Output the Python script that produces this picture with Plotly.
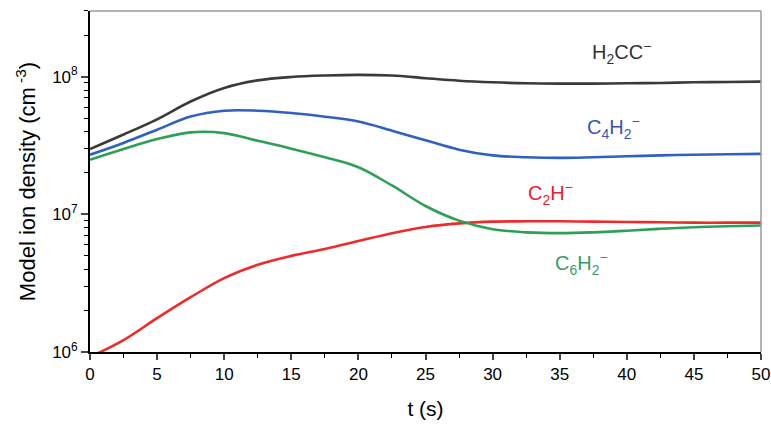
import math
import plotly.graph_objects as go

t = [0, 2.5, 5, 7.5, 10, 12.5, 15, 17.5, 20, 22.5, 25, 27.5, 30, 32.5, 35, 37.5, 40, 42.5, 45, 47.5, 50]

h2cc = [2.98e7, 3.8e7, 4.9e7, 6.6e7, 8.28e7, 9.4e7, 9.95e7, 1.02e8, 1.03e8, 1.02e8, 9.75e7, 9.35e7,
        9.1e7, 8.95e7, 8.9e7, 8.9e7, 8.95e7, 9.0e7, 9.1e7, 9.15e7, 9.2e7]
c4h2 = [2.71e7, 3.3e7, 4.12e7, 5.13e7, 5.66e7, 5.66e7, 5.45e7, 5.12e7, 4.72e7, 4.05e7, 3.45e7, 2.95e7,
        2.68e7, 2.6e7, 2.57e7, 2.6e7, 2.64e7, 2.68e7, 2.71e7, 2.73e7, 2.75e7]
c6h2 = [2.49e7, 2.98e7, 3.52e7, 3.94e7, 3.89e7, 3.42e7, 3.0e7, 2.6e7, 2.2e7, 1.62e7, 1.15e7, 9.0e6,
        7.8e6, 7.4e6, 7.3e6, 7.4e6, 7.6e6, 7.85e6, 8.05e6, 8.2e6, 8.3e6]
c2h = [0.92e6, 1.22e6, 1.76e6, 2.5e6, 3.44e6, 4.3e6, 4.99e6, 5.6e6, 6.4e6, 7.3e6, 8.1e6, 8.6e6,
       8.85e6, 8.9e6, 8.9e6, 8.85e6, 8.8e6, 8.75e6, 8.7e6, 8.7e6, 8.7e6]

names = ["H<sub>2</sub>CC<sup>−</sup>", "C<sub>4</sub>H<sub>2</sub><sup>−</sup>",
         "C<sub>2</sub>H<sup>−</sup>", "C<sub>6</sub>H<sub>2</sub><sup>−</sup>"]
label_t = [39.6, 39.0, 34.3, 36.6]
label_val = [1.5e8, 4.3e7, 1.42e7, 4.4e6]

line_colors = ["#3a3a3a", "#3060c0", "#ee2b2b", "#2ea055"]
text_colors = ["#333333", "#3a55b0", "#e8202a", "#3a9a6a"]
data = [h2cc, c4h2, c2h, c6h2]

FONT = "Liberation Sans, Arial, sans-serif"

fig = go.Figure()
for name, vals, lc, tc, lx, ly in zip(names, data, line_colors, text_colors, label_t, label_val):
    fig.add_trace(go.Scatter(x=t, y=vals, mode="lines", name=name,
                             line=dict(color=lc, width=2.6, shape="spline", smoothing=1.0),
                             showlegend=False, hoverinfo="skip"))
    fig.add_annotation(x=lx, y=math.log10(ly), xref="x", yref="y", text=name, showarrow=False,
                       font=dict(family=FONT, size=20, color=tc))

fig.update_layout(
    width=771, height=427,
    margin=dict(l=90, r=10, t=11, b=75),
    plot_bgcolor="white", paper_bgcolor="white",
    font=dict(family=FONT, size=17, color="black"),
    xaxis=dict(range=[0, 50], tickvals=[0, 5, 10, 15, 20, 25, 30, 35, 40, 45, 50],
               ticks="outside", ticklen=6, tickwidth=1.5, showline=True, linecolor="black", linewidth=1.8,
               showgrid=False, zeroline=False, automargin=False,
               minor=dict(tickvals=[2.5, 7.5, 12.5, 17.5, 22.5, 27.5, 32.5, 37.5, 42.5, 47.5],
                          ticks="outside", ticklen=4, tickwidth=1.2, tickcolor="black"),
               title=dict(text="t (s)", font=dict(size=21), standoff=18),
               tickfont=dict(size=17)),
    yaxis=dict(type="log", range=[6, 8.477], tickvals=[1e6, 1e7, 1e8],
               ticktext=["10<sup>6</sup>", "10<sup>7</sup>", "10<sup>8</sup>"],
               ticks="outside", ticklen=7, tickwidth=1.5, showline=True, linecolor="black", linewidth=1.8,
               showgrid=False, zeroline=False, automargin=False,
               minor=dict(tickvals=[k * 10 ** e for e in (6, 7) for k in range(2, 10)] + [2e8, 3e8],
                          ticks="outside", ticklen=4, tickwidth=1.2, tickcolor="black"),
               title=dict(text="Model ion density (cm<sup> -3</sup>)", font=dict(size=22), standoff=10),
               tickfont=dict(size=17)),
)
fig.add_shape(type="line", xref="paper", yref="paper", x0=0, x1=1, y0=1, y1=1,
              line=dict(color="#9a9a9a", width=1.5))
fig.add_shape(type="line", xref="paper", yref="paper", x0=1, x1=1, y0=0, y1=1,
              line=dict(color="#9a9a9a", width=1.5))

fig.write_html("out.html", config={"displayModeBar": False},
               post_script="document.body.style.margin='0';document.body.style.padding='0';")
